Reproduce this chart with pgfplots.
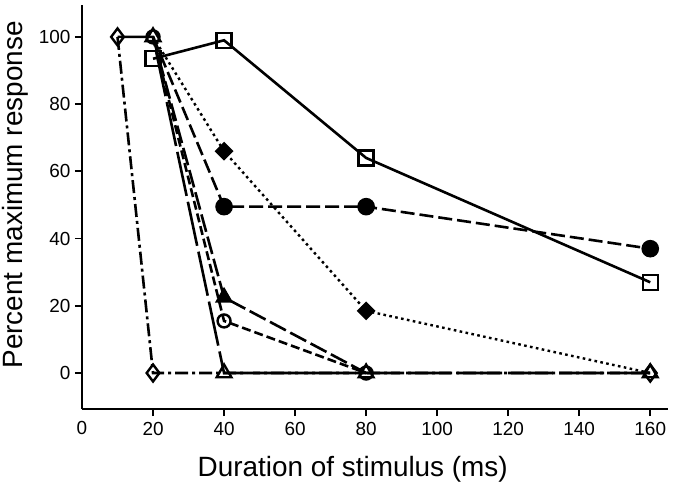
\documentclass[border=0pt]{standalone}
\usepackage{pgfplots}
\pgfplotsset{compat=1.18}
\usepackage{fontspec}
\setmainfont{Liberation Sans}
\begin{document}
\begin{tikzpicture}
\begin{axis}[
  scale only axis,
  width=586bp, height=404bp,
  xmin=0, xmax=165, ymin=-10.7, ymax=109.5,
  axis x line=bottom, axis y line=left,
  axis line style={-, line width=1.8bp},
  tick align=outside,
  major tick length=7bp,
  tick style={line width=1.8bp, black},
  xtick={20,40,...,160},
  extra x ticks={0},
  extra x tick style={major tick length=0pt, xticklabel style={font=\fontsize{19}{21}\selectfont, yshift=-6bp}},
  ytick={0,20,...,100},
  /pgf/number format/assume math mode=true,
  ticklabel style={font=\fontsize{19}{21}\selectfont},
  xticklabel style={yshift=-3bp},
  yticklabel style={xshift=-1bp},
  xlabel={Duration of stimulus (ms)},
  ylabel={Percent maximum response},
  label style={font=\fontsize{28}{32}\selectfont},
  xlabel style={at={(axis description cs:0.462,-0.168)}, anchor=base},
  ylabel style={at={(axis description cs:-0.102,0.53)}, anchor=base, rotate=0},
  clip=false,
]
\coordinate (ll) at (rel axis cs:0,0);
\coordinate (ur) at (rel axis cs:1,1);
% filled circle, long dash
\addplot[black, line width=2.6bp, dash pattern=on 14bp off 5bp, mark=*, mark size=7.5bp, mark indices={2,3,4}, mark options={solid}]
  coordinates {(20,100) (40,49.5) (80,49.5) (160,37)};
% filled diamond, dotted
\addplot[black, line width=2.4bp, dash pattern=on 2.6bp off 3.4bp, mark=square*, mark size=5.5bp, mark indices={2,3}, mark options={solid, rotate=45}]
  coordinates {(20,100) (40,66) (80,18.5) (160,0)};
% filled triangle, long dash
\addplot[black, line width=2.6bp, dash pattern=on 18bp off 5bp, mark=triangle*, mark size=8bp, mark indices={2}, mark options={solid}]
  coordinates {(20,100) (40,22.5) (80,0)};
% open diamond, dash-dot
\addplot[black, line width=2.6bp, dash pattern=on 13bp off 4bp on 3bp off 4bp, mark=diamond, mark size=8.5bp, mark indices={1,3}, mark options={solid, fill=white, line width=2.4bp}]
  coordinates {(10,100) (20,0) (160,0)};
\addplot[black, only marks, mark=diamond, mark size=8.5bp, mark options={solid, fill=white, line width=2.4bp}]
  coordinates {(20,0)};
% open circle, dashed
\addplot[black, line width=2.6bp, dash pattern=on 9bp off 4bp, mark=o, mark size=6.5bp, mark options={solid, fill=white, line width=2.4bp}]
  coordinates {(20,100) (40,15.5) (80,0)};
% open triangle, very long dash
\addplot[black, line width=2.6bp, dash pattern=on 45bp off 6bp, mark=triangle, mark size=8.5bp, mark indices={2,3,4,5}, mark options={solid, fill=white, line width=2.4bp}]
  coordinates {(10,100) (20,100) (40,0) (80,0) (160,0)};
% open square, solid
\addplot[black, line width=2.6bp, solid, mark=square, mark size=7.5bp, mark options={solid, fill=white, line width=2.4bp}]
  coordinates {(20,93.5) (40,99) (80,64) (160,27)};
\end{axis}
\pgfresetboundingbox
\path ([xshift=-82bp,yshift=-74bp]ll) rectangle ([xshift=9bp,yshift=5bp]ur);
\end{tikzpicture}
\end{document}
